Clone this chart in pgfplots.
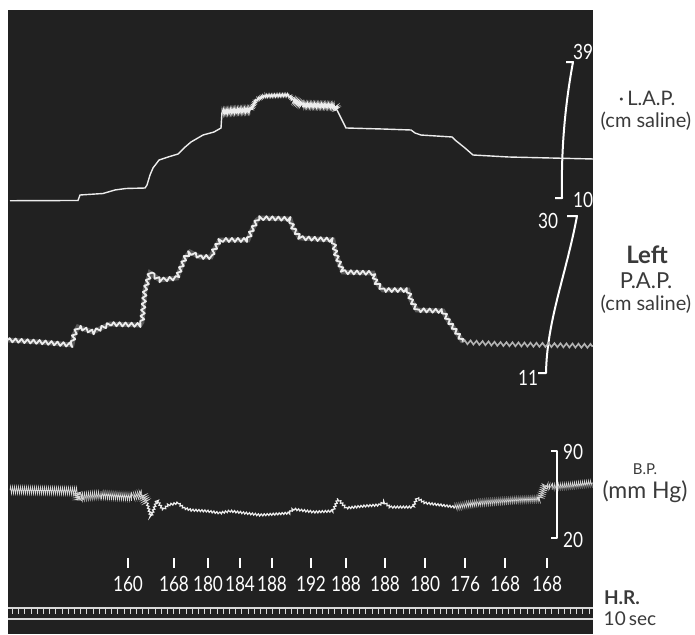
\documentclass[border=0pt]{standalone}
\usepackage{pgfplots}
\pgfplotsset{compat=1.18}
\usepackage{pgfplotstable}
\usepackage{fontspec}
\setmainfont{Lato}
\newfontfamily\narrowfont[FakeStretch=0.82]{Lato}
\usetikzlibrary{decorations.pathmorphing}

\definecolor{panel}{HTML}{212121}
\definecolor{trace}{HTML}{EDEDED}
\definecolor{ink}{HTML}{3A3A3A}

\newcommand\lblfont{\fontsize{10}{11}\selectfont}
\newcommand\numfont{\narrowfont\fontsize{10.5}{11}\selectfont}

% left atrial pressure, cm saline
\pgfplotstableread{
x v
10 9.42
78 9.47
80 10.64
103 10.96
115 11.71
126 12.03
145 12.13
147 12.77
150 14.90
153 16.40
159 18.10
168 18.74
178 19.38
184 20.66
191 21.94
203 23.43
214 24.07
221 24.93
222 28.34
236 28.60
251 28.76
256 30.90
264 31.75
289 31.96
293 30.90
302 29.83
335 29.62
337 28.76
346 24.93
383 24.71
411 24.50
415 23.86
421 23.43
452 23.01
455 22.37
465 20.66
473 19.17
509 18.74
593 18.32
}\lap

% pulmonary arterial pressure, cm saline
\pgfplotstableread{
x v
8 14.99
40 14.75
72 14.39
74 15.60
78 16.57
93 15.96
110 16.93
140 16.81
142 17.17
145 21.04
150 23.10
160 22.25
177 22.50
180 23.47
185 24.92
190 25.64
200 25.04
211 25.04
214 25.89
220 27.10
248 27.10
251 28.06
257 29.52
260 29.76
290 29.64
293 28.55
300 27.34
333 27.10
336 25.28
343 23.22
373 23.10
376 22.01
383 21.04
408 21.04
411 19.83
417 18.62
443 18.50
448 17.41
455 16.20
463 14.75
500 14.51
593 14.27
}\pap

% systemic blood pressure, mm Hg
\pgfplotstableread{
x v
10 58.6
77 57.8
78 50.6
80 53.0
100 54.6
115 53.8
132 53.0
142 55.4
147 48.2
151 36.9
157 50.6
163 42.5
168 46.6
178 48.2
184 44.1
191 42.5
207 41.7
220 40.1
230 41.7
245 40.1
260 38.5
276 39.3
289 40.1
293 43.3
314 40.9
333 41.7
338 51.4
346 44.1
364 45.7
379 46.6
384 49.0
390 44.9
413 44.9
417 52.2
425 48.2
440 46.6
455 44.9
478 48.2
517 50.6
540 51.4
545 62.6
551 61.0
574 62.6
593 64.3
}\bp

% heart rate, beats/min
\pgfplotstableread{
x y hr
128 563 160
174 563 168
208 563 180
240 563 184
272 563 188
311 563 192
346 563 188
385 563 188
425 563 180
465 563 176
505 563 168
547 563 168
}\hr

\begin{document}
\begin{tikzpicture}
\pgfplotsset{
  trace axis/.style={anchor=south west, scale only axis, width=347.5pt,
    xmin=0, xmax=695, hide axis, clip=false},
  noisy/.style 2 args={decorate, decoration={zigzag, segment length=#1, amplitude=#2}},
}
% frame: recording panel, scales and captions
\begin{axis}[at={(0pt,0pt)}, anchor=south west, scale only axis,
  width=347.5pt, height=317pt, xmin=0, xmax=695, ymin=0, ymax=634,
  y dir=reverse, hide axis, clip=false]
\fill[panel] (axis cs:8,10) rectangle (axis cs:593,634);
% calibration brackets
\draw[white, line width=1pt, line join=round]
  (axis cs:566,62) -- (axis cs:573,62)
  .. controls (axis cs:565,105) and (axis cs:561,150) .. (axis cs:562,198)
  -- (axis cs:555,198);
\draw[white, line width=1pt, line join=round]
  (axis cs:567,216) -- (axis cs:577,216)
  .. controls (axis cs:566,275) and (axis cs:547,320) .. (axis cs:546,373)
  -- (axis cs:538,373);
\draw[white, line width=1pt, line join=round]
  (axis cs:551,451) -- (axis cs:557,451) -- (axis cs:557,538) -- (axis cs:551,538);
\node[text=white, font=\numfont] at (axis cs:583,52) {39};
\node[text=white, font=\numfont] at (axis cs:583,200) {10};
\node[text=white, font=\numfont] at (axis cs:548,221) {30};
\node[text=white, font=\numfont] at (axis cs:528,378) {11};
\node[text=white, font=\numfont] at (axis cs:573,452) {90};
\node[text=white, font=\numfont] at (axis cs:573,540) {20};
% upper rail of the time marker
\draw[white!85!black, line width=0.6pt] (axis cs:8,608) -- (axis cs:593,608);
% trace captions
\node[text=ink, font=\lblfont] at (axis cs:647,98) {·\,L.A.P.};
\node[text=ink, font=\lblfont] at (axis cs:646,121) {(cm saline)};
\node[text=ink, font=\fontsize{12}{13}\selectfont\bfseries] at (axis cs:647,255) {Left};
\node[text=ink, font=\fontsize{11}{12}\selectfont] at (axis cs:646,281) {P.A.P.};
\node[text=ink, font=\lblfont] at (axis cs:646,304) {(cm saline)};
\node[text=ink, font=\fontsize{7.5}{8}\selectfont] at (axis cs:645,469) {B.P.};
\node[text=ink, font=\fontsize{11.5}{12}\selectfont] at (axis cs:645,492) {(mm Hg)};
\node[text=ink, font=\fontsize{9.5}{10}\selectfont\bfseries] at (axis cs:622,598) {H.R.};
\node[text=ink, font=\fontsize{9.5}{10}\selectfont] at (axis cs:630,619) {10\,sec};
% heart-rate marks
\addplot[white, only marks, mark=|, mark size=2.6pt, mark options={line width=1pt},
  nodes near coords, point meta=explicit symbolic,
  every node near coord/.append style={anchor=center, yshift=-10.5pt,
    font=\numfont, text=white}]
  table[x=x, y=y, meta=hr] {\hr};
\end{axis}

% L.A.P.
\begin{axis}[trace axis, at={(0pt,218pt)}, height=68pt, ymin=10, ymax=39]
\addplot[trace, line width=0.7pt, restrict x to domain=0:222] table[x=x, y=v] {\lap};
\addplot[trace, line width=0.45pt, noisy={0.7pt}{1.3pt}, restrict x to domain=222:251] table[x=x, y=v] {\lap};
\addplot[trace, line width=0.5pt, noisy={0.8pt}{0.7pt}, restrict x to domain=251:293] table[x=x, y=v] {\lap};
\addplot[trace, line width=0.45pt, noisy={0.7pt}{1.2pt}, restrict x to domain=293:337] table[x=x, y=v] {\lap};
\addplot[trace, line width=0.7pt, restrict x to domain=337:700] table[x=x, y=v] {\lap};
\end{axis}

% P.A.P.
\begin{axis}[trace axis, at={(0pt,130.5pt)}, height=78.5pt, ymin=11, ymax=30]
\addplot[trace!60!gray, line width=2.4pt, opacity=0.35, restrict x to domain=0:463] table[x=x, y=v] {\pap};
\addplot[trace, line width=0.9pt, line join=round, noisy={3pt}{1pt}, restrict x to domain=0:463] table[x=x, y=v] {\pap};
\addplot[gray!60!white, line width=0.8pt, noisy={3pt}{1pt}, restrict x to domain=463:700] table[x=x, y=v] {\pap};
\end{axis}

% B.P.
\begin{axis}[trace axis, at={(0pt,48pt)}, height=43.5pt, ymin=20, ymax=90]
\addplot[trace!80!gray, line width=0.3pt, noisy={1pt}{1.9pt}, restrict x to domain=0:147] table[x=x, y=v] {\bp};
\addplot[trace, line width=0.6pt, noisy={1.5pt}{0.5pt}, restrict x to domain=147:455] table[x=x, y=v] {\bp};
\addplot[trace!80!gray, line width=0.3pt, noisy={1pt}{1.5pt}, restrict x to domain=455:700] table[x=x, y=v] {\bp};
\end{axis}

% time marker: one tick per second below the upper rail
\begin{axis}[at={(4pt,7.5pt)}, anchor=south west, scale only axis,
  width=292.5pt, height=5.3pt, xmin=8, xmax=593, ymin=0, ymax=1,
  axis line style={draw=none},
  xtick distance=6.2, xtick pos=right, xticklabel pos=right, tick align=inside,
  major tick length=2.6pt, tick style={white!85!black, line width=0.5pt},
  xticklabel=\empty, ytick=\empty]
\end{axis}
% panel floor and lower rail
\fill[panel] (4pt,0pt) rectangle (296.5pt,7.3pt);
\draw[white!85!black, line width=0.6pt] (4pt,7.5pt) -- (296.5pt,7.5pt);

\pgfresetboundingbox
\useasboundingbox (0,0) rectangle (347.5pt,317pt);
\end{tikzpicture}
\end{document}
